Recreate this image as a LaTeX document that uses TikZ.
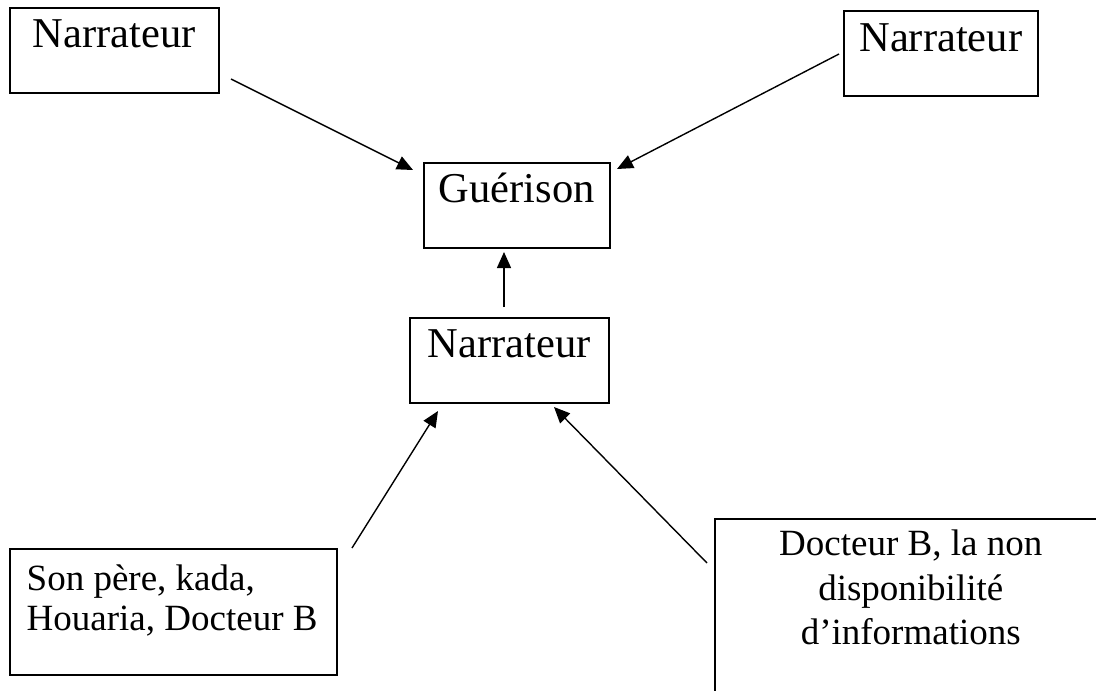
\documentclass[tikz,border=0pt]{standalone}
\usepackage{fontspec}
\setmainfont{Liberation Serif}
\usetikzlibrary{arrows.meta}
\tikzset{
  boxbig/.style={draw, line width=1.5pt, rectangle, inner xsep=0pt, inner ysep=0pt,
    font=\fontsize{42.5}{50}\selectfont, minimum height=85pt},
  boxsmall/.style={draw, line width=1.5pt, rectangle, inner xsep=0pt, inner ysep=0pt,
    font=\fontsize{37}{44}\selectfont},
  conn/.style={line width=1.4pt, -{Triangle[length=16pt,width=14pt]}}
}
\begin{document}
\begin{tikzpicture}[x=1pt,y=-1pt]
\useasboundingbox (0,0) rectangle (1096,691);
\clip (0,0) rectangle (1096,691);
% boxes
\node[boxbig, anchor=north west, minimum width=209pt, text height=40pt, text depth=45pt] (n1) at (9,7) {Narrateur};
\node[boxbig, anchor=north west, minimum width=194pt, text height=41pt, text depth=44pt] (n2) at (843,10) {Narrateur};
\node[boxbig, anchor=north west, minimum width=186pt, text height=40pt, text depth=45pt] (g) at (423,162) {Guérison};
\node[boxbig, anchor=north west, minimum width=199pt, text height=40pt, text depth=45pt] (n3) at (409,317) {Narrateur};
\node[boxsmall, anchor=north west, minimum width=327pt, minimum height=126pt, text height=42pt, text depth=84pt] (s) at (9,548)
  {\vtop{\baselineskip=40pt\hbox to 293pt{Son père, kada,\hfil}\hbox to 293pt{Houaria, Docteur B\hfil}}};
\node[boxsmall, anchor=north west, minimum width=392pt, minimum height=190pt, text height=37pt, text depth=153pt] (d) at (714,518)
  {\vtop{\baselineskip=44.5pt\hbox to 330pt{\hfil Docteur B, la non\hfil}\hbox to 330pt{\hfil disponibilité\hfil}\hbox to 330pt{\hfil d’informations\hfil}}};
% connector end points
\coordinate (a1s) at (231,79);  \coordinate (a1e) at (413,170);
\coordinate (a2s) at (839,54);  \coordinate (a2e) at (617,169);
\coordinate (a3s) at (504,307); \coordinate (a3e) at (504,252);
\coordinate (a4s) at (352,548); \coordinate (a4e) at (438,411);
\coordinate (a5s) at (707,563); \coordinate (a5e) at (554,407);
% connectors
\draw[conn] (a1s) -- (a1e);
\draw[conn] (a2s) -- (a2e);
\draw[conn] (a3s) -- (a3e);
\draw[conn] (a4s) -- (a4e);
\draw[conn] (a5s) -- (a5e);
\end{tikzpicture}
\end{document}
